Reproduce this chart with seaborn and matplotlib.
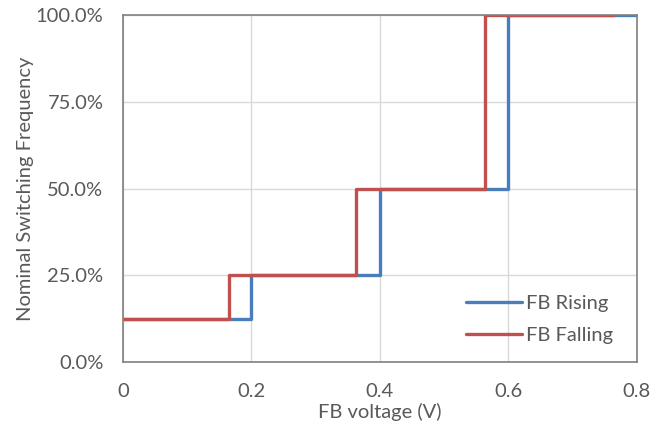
import matplotlib
matplotlib.use("Agg")
import matplotlib.pyplot as plt
import pandas as pd
import seaborn as sns
from matplotlib.ticker import FuncFormatter

rising_v = [0.0, 0.2, 0.4, 0.6, 0.8]
rising_f = [12.5, 25.0, 50.0, 100.0, 100.0]
falling_v = [0.0, 0.165, 0.363, 0.563, 0.765]
falling_f = [12.5, 25.0, 50.0, 100.0, 100.0]
x_ticks = [0, 0.2, 0.4, 0.6, 0.8]
x_tick_labels = ["0", "0.2", "0.4", "0.6", "0.8"]
y_ticks = [0, 25, 50, 75, 100]

sns.set_theme(style="white")
plt.rcParams["font.family"] = ["Lato", "DejaVu Sans"]

data = pd.concat(
    [
        pd.DataFrame({"v": rising_v, "f": rising_f, "Series": "FB Rising"}),
        pd.DataFrame({"v": falling_v, "f": falling_f, "Series": "FB Falling"}),
    ],
    ignore_index=True,
)

fig = plt.figure(figsize=(6.64, 4.29), dpi=100)
ax = fig.add_axes([0.185, 0.156, 0.774, 0.809])

sns.lineplot(
    data=data, x="v", y="f", hue="Series",
    palette={"FB Rising": "#4a7ebb", "FB Falling": "#c0504d"},
    drawstyle="steps-post", linewidth=2.4, ax=ax, estimator=None, sort=False,
)

ax.set_xlim(0, 0.8)
ax.set_ylim(0, 100)
ax.set_xticks(x_ticks)
ax.set_xticklabels(x_tick_labels)
ax.set_yticks(y_ticks)
ax.yaxis.set_major_formatter(FuncFormatter(lambda v, p: f"{v:.1f}%"))
ax.grid(True, color="#d9d9d9", linewidth=1)
ax.set_axisbelow(True)
for s in ax.spines.values():
    s.set_color("#808080")
    s.set_linewidth(1.2)
ax.tick_params(axis="both", length=0, labelsize=14.5, labelcolor="#595959")
ax.tick_params(axis="x", pad=15)
ax.tick_params(axis="y", pad=14)
ax.set_xlabel("FB voltage (V)", fontsize=14.5, color="#595959", labelpad=2)
ax.set_ylabel("Nominal Switching Frequency", fontsize=14.5, color="#595959", labelpad=1)

ax.legend(loc="lower right", frameon=False, fontsize=14.5, handlelength=2.8,
          handletextpad=0.2, labelspacing=0.75, borderaxespad=0.5,
          bbox_to_anchor=(0.99, 0.0), labelcolor="#595959")

fig.savefig("out.png", dpi=100)
